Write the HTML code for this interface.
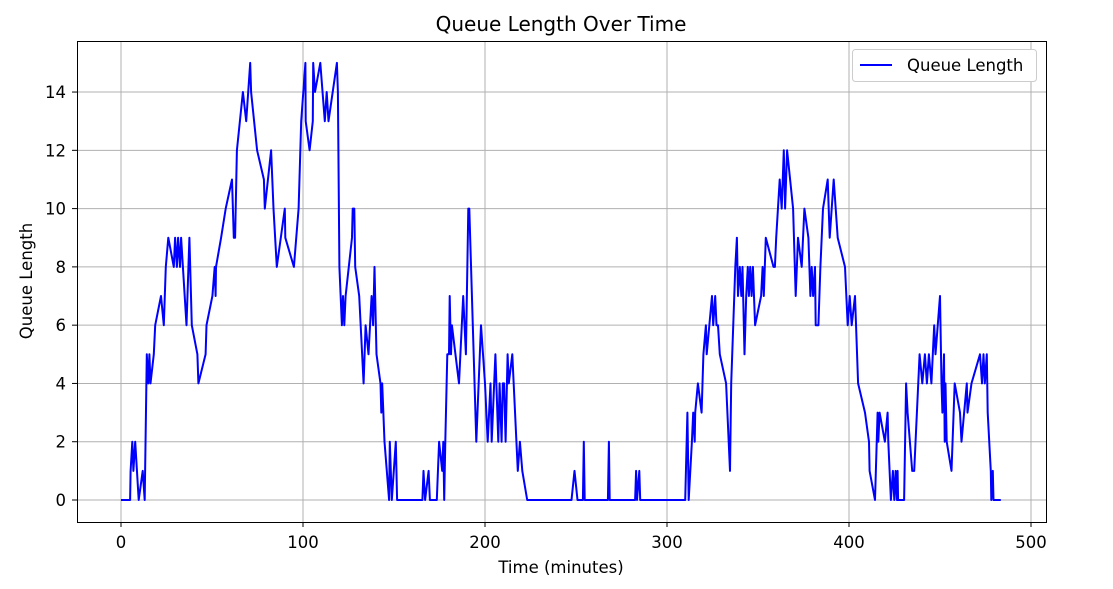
<!DOCTYPE html>
<html><head><meta charset="utf-8"><style>
html,body{margin:0;padding:0;background:#fff;}
svg{display:block;font-family:"DejaVu Sans","Liberation Sans",sans-serif;}
</style></head><body>
<svg id="chart" width="1113" height="589" viewBox="0 0 1113 589" xmlns="http://www.w3.org/2000/svg">
<rect width="1113" height="589" fill="#fff"/>
<g id="grid"></g>
<g id="ticks"></g>
<path id="series" fill="none" stroke="#0000ff" stroke-width="2" stroke-linejoin="round"/>
<rect x="77.5" y="41.5" width="969" height="481" fill="none" stroke="#000" stroke-width="1"/>
<text x="561" y="31" font-size="20" text-anchor="middle">Queue Length Over Time</text>
<text x="561" y="573" font-size="16.5" text-anchor="middle">Time (minutes)</text>
<text x="32" y="281" font-size="16.5" text-anchor="middle" transform="rotate(-90 32 281)">Queue Length</text>
<g>
<rect x="852.5" y="49.5" width="184" height="32" rx="3" fill="#fff" stroke="#ccc"/>
<line x1="860" y1="65" x2="892" y2="65" stroke="#0000ff" stroke-width="2"/>
<text x="907" y="71" font-size="16.5">Queue Length</text>
</g>
</svg>
<script>
const times=[
0,5,5.3,6.2,6.8,7.8,9.7,11.9,13,14.2,
15,15.6,16.2,18,18.8,22,23.5,24.6,26,29,
29.7,30.7,31.4,32.4,33,36,37.6,38.9,42,42.5,
46.5,47,50.2,51.5,52,52.2,55,57.5,61,62,
62.7,63.7,67,68.8,71,71.5,74.8,78.5,79,82.5,
83.8,85.6,90,90.3,95,97.6,99,101.3,101.5,103.6,
105.4,105.6,106.6,109.5,112,113,114,118.6,119.2,120,
121.4,122,122.7,123.4,126.9,127.3,128.2,128.7,130.9,133.3,
134.4,136,137.7,138.5,139.3,140.4,142.6,143,143.5,144.8,
147.3,147.7,148.8,151,151.7,165.6,166.2,167.1,169,169.7,
173.5,174.8,176.5,177.1,177.6,178.2,179.3,180.2,180.6,181.3,
181.8,185.7,188,189.5,190.8,191.4,195.2,197.8,200,201.5,
203,203.7,205.7,207.3,208,209.1,209.8,210.5,211.3,212.4,
213.1,215,218,219.2,220.5,223.2,247.5,249.2,250.8,253.8,
254.3,254.8,267.5,268.1,268.5,282.5,283,283.5,284.8,285.3,
310,311.2,311.9,313.7,314.4,315.2,315.5,317,319,320,
321.4,321.8,324.7,325.4,326.5,327.2,328,329,332.5,334.6,
335.3,337.5,338.4,339,340,340.8,341.5,342.6,343.5,344.4,
345,345.7,346.5,347.2,348.4,351.7,352.5,353.2,354.3,358.5,
359.3,360,361.9,363,364.2,364.9,366,369.3,370.7,372,
374,375.5,377.7,378.8,379.5,380.3,381.3,381.7,383.2,384.3,
385.7,388.3,389.4,391.6,393.8,397.8,399.3,400.4,401.5,403.3,
405,408.8,411,411.3,414.3,415.7,416.1,416.8,419.7,421.2,
421.6,423,424.1,424.9,425.6,426.3,426.7,427,430.3,431.4,
432.2,434.7,435.8,438.8,440.3,441.7,442.8,443.9,445.3,446.8,
447.5,450,450.8,451.3,452.2,452.6,453,453.7,456.3,458.1,
461,461.8,464.7,465.1,467.3,472,473.1,473.9,474.6,475.7,
476.2,477.9,478.2,479,479.4,483.4];
const queue=[
0,0,1,2,1,2,0,1,0,5,
4,5,4,5,6,7,6,8,9,8,
9,8,9,8,9,6,9,6,5,4,
5,6,7,8,7,8,9,10,11,9,
9,12,14,13,15,14,12,11,10,12,
10,8,10,9,8,10,13,15,13,12,
13,15,14,15,13,14,13,15,14,8,
6,7,6,7,9,10,10,8,7,4,
6,5,7,6,8,5,4,3,4,2,
0,2,0,2,0,0,1,0,1,0,
0,2,1,2,0,2,5,5,7,5,
6,4,7,5,10,10,2,6,4,2,
4,2,5,2,4,2,4,4,2,5,
4,5,1,2,1,0,0,1,0,0,
2,0,0,2,0,0,1,0,1,0,
0,3,0,2,3,2,3,4,3,5,
6,5,7,6,7,6,6,5,4,1,
4,8,9,7,8,7,8,5,7,8,
7,8,7,8,6,7,8,7,9,8,
8,9,11,10,12,10,12,10,7,9,
8,10,9,7,8,7,8,6,6,8,
10,11,9,11,9,8,6,7,6,7,
4,3,2,1,0,3,2,3,2,3,
2,0,1,0,1,0,1,0,0,4,
3,1,1,5,4,5,4,5,4,6,
5,7,4,3,5,2,4,2,1,4,
3,2,4,3,4,5,4,5,4,5,
3,1,0,1,0,0];
const xTicks=[0,100,200,300,400,500];
const yTicks=[0,2,4,6,8,10,12,14];
const xScale=t=>121+t*1.82;
const yScale=v=>500-v*29.14;
const NS="http://www.w3.org/2000/svg";
const grid=document.getElementById('grid'),ticks=document.getElementById('ticks');
function mk(tag,attrs,parent){const e=document.createElementNS(NS,tag);for(const k in attrs)e.setAttribute(k,attrs[k]);parent.appendChild(e);return e;}
xTicks.forEach(t=>{const x=xScale(t);
 const g=mk('line',{x1:x,x2:x,y1:41,y2:522,stroke:'#b0b0b0','stroke-width':1},grid);
 
 
 mk('line',{x1:x,x2:x,y1:522,y2:527,stroke:'#000'},ticks);
 const tx=mk('text',{x:x,y:548,'font-size':16.5,'text-anchor':'middle'},ticks);tx.textContent=t;
 
 
});
yTicks.forEach(v=>{const y=yScale(v);
 const g=mk('line',{x1:77,x2:1046,y1:y,y2:y,stroke:'#b0b0b0','stroke-width':1},grid);
 
 
 mk('line',{x1:72,x2:77,y1:y,y2:y,stroke:'#000'},ticks);
 const tx=mk('text',{x:66,y:y+6,'font-size':16.5,'text-anchor':'end'},ticks);tx.textContent=v;
 
 
});
const n=Math.min(times.length,queue.length);
let d='';for(let i=0;i<n;i++){d+=(i?'L':'M')+xScale(times[i]).toFixed(1)+','+yScale(queue[i]).toFixed(1);}
document.getElementById('series').setAttribute('d',d);
</script>
</body></html>
